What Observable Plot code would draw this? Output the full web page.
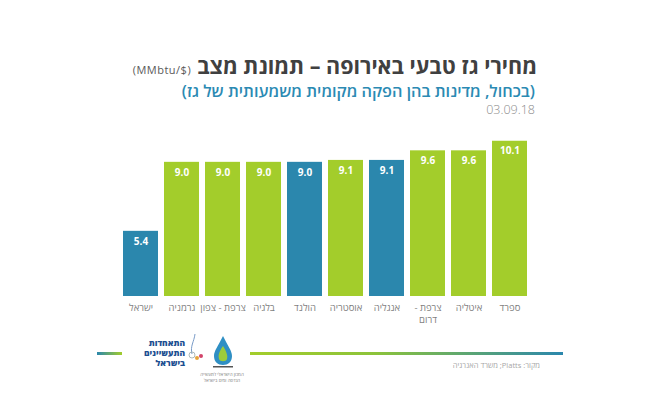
<!DOCTYPE html>
<html>
<head>
<meta charset="utf-8">
<script src="https://cdn.jsdelivr.net/npm/d3@7"></script>
<script src="https://cdn.jsdelivr.net/npm/@observablehq/plot@0.6"></script>
<style>
  html, body { margin: 0; padding: 0; background: #fff; }
  #wrap { position: relative; width: 660px; height: 420px; overflow: hidden; font-family: "Open Sans", "Liberation Sans", "DejaVu Sans", sans-serif; }
  .abs { position: absolute; }
  #title { right: 123px; top: 54px; direction: rtl; font-size: 21.5px; font-weight: 700; color: #404040; white-space: nowrap; line-height: 24px; }
  #title .unit { font-size: 11px; font-weight: 400; color: #595959; margin-right: 6px; letter-spacing: 0.5px; }
  #subtitle { right: 125px; top: 83px; direction: rtl; font-size: 16.3px; font-weight: 600; color: #2b8ab3; white-space: nowrap; line-height: 17px; }
  #date { right: 125px; top: 103px; font-size: 12.5px; font-weight: 300; color: #8c8c8c; line-height: 14px; }
  #chart { left: 0; top: 125px; }
  .gline { height: 3px; }
  #source { right: 120px; top: 361px; direction: rtl; font-size: 7.5px; color: #a6a6a6; white-space: nowrap; line-height: 9px; }
  #logo1 { left: 133px; top: 338px; direction: rtl; font-size: 8.5px; font-weight: 800; color: #1d4f91; line-height: 10px; text-align: right; width: 52px; }
  #logo2txt { left: 200px; top: 371px; direction: rtl; font-size: 4.5px; color: #777; line-height: 6px; text-align: center; width: 44px; }
</style>
</head>
<body>
<div id="wrap">
  <div id="title" class="abs">מחירי גז טבעי באירופה – תמונת מצב<span class="unit" dir="ltr">(MMbtu/$)</span></div>
  <div id="subtitle" class="abs">(בכחול, מדינות בהן הפקה מקומית משמעותית של גז)</div>
  <div id="date" class="abs">03.09.18</div>
  <div id="chart" class="abs"></div>
  <div class="abs gline" style="left:97px; top:352px; width:25px; background: linear-gradient(to right, #2b87ad, #a3cd2b);"></div>
  <div class="abs gline" style="left:250px; top:352px; width:313px; background: linear-gradient(to right, #a3cd2b, #8cc33a 40%, #2b87ad);"></div>
  <div id="logo1" class="abs">התאחדות<br>התעשיינים<br>בישראל</div>
  <svg class="abs" style="left:186px; top:332px;" width="20" height="30" viewBox="0 0 20 30">
    <path d="M9 2 C 8 10, 4 14, 6 22" stroke="#7a9cc8" stroke-width="1" fill="none"/>
    <circle cx="6" cy="23" r="3" fill="none" stroke="#9aa" stroke-width="0.8"/>
    <circle cx="11" cy="26" r="2" fill="#e7a33a"/>
    <circle cx="15" cy="24" r="2" fill="#d2436a"/>
  </svg>
  <svg class="abs" style="left:208px; top:334px;" width="30" height="36" viewBox="0 0 30 36">
    <path d="M15 2 C 10 12, 6 17, 6 22 C 6 28, 10 31, 15 31 C 20 31, 24 28, 24 22 C 24 17, 20 12, 15 2 Z" fill="#2f8fc4"/>
    <path d="M15 12 C 11 18, 10 21, 11 25 C 12 28, 18 28, 19 25 C 20 21, 18 17, 15 12 Z" fill="#9ccc3a"/>
    <rect x="5" y="32" width="20" height="1.5" fill="#555"/>
  </svg>
  <div id="logo2txt" class="abs">המכון הישראלי לתעשייה<br>הנדסה ומים בישראל</div>
  <div id="source" class="abs">מקור: Platts; משרד האנרגיה</div>
</div>
<script>
const countries = ["ישראל", "גרמניה", "צרפת - צפון", "בלגיה", "הולנד", "אוסטריה", "אנגליה", "צרפת - דרום", "איטליה", "ספרד"];
const prices = [5.4, 9.0, 9.0, 9.0, 9.0, 9.1, 9.1, 9.6, 9.6, 10.1];
const localProduction = [true, false, false, false, true, false, true, false, false, false];
const tickLabels = {"צרפת - דרום": "- צרפת\nדרום"};

const data = countries.map((c, i) => ({country: c, value: prices[i], local: localProduction[i]}));
const green = "#a3cd2b", blue = "#2b87ad";

const chart = Plot.plot({
  width: 660,
  height: 205,
  marginLeft: 116,
  marginRight: 125,
  marginTop: 10,
  marginBottom: 34,
  style: {fontFamily: '"Open Sans", "Liberation Sans", "DejaVu Sans", sans-serif', background: "transparent"},
  x: {domain: countries, padding: 0.137, label: null},
  y: {domain: [2, 10.4], axis: null},
  marks: [
    Plot.barY(data, {x: "country", y1: 2, y2: "value", fill: d => d.local ? blue : green}),
    Plot.text(data, {x: "country", y: "value", text: d => d.value.toFixed(1), dy: 10, fill: "white", fontWeight: "bold", fontSize: 10}),
    Plot.axisX({tickSize: 0, tickPadding: 6, fontSize: 9.5, fill: "#7f7f7f", lineHeight: 1.25, tickFormat: d => tickLabels[d] || d})
  ]
});
document.getElementById("chart").appendChild(chart);
</script>
</body>
</html>
